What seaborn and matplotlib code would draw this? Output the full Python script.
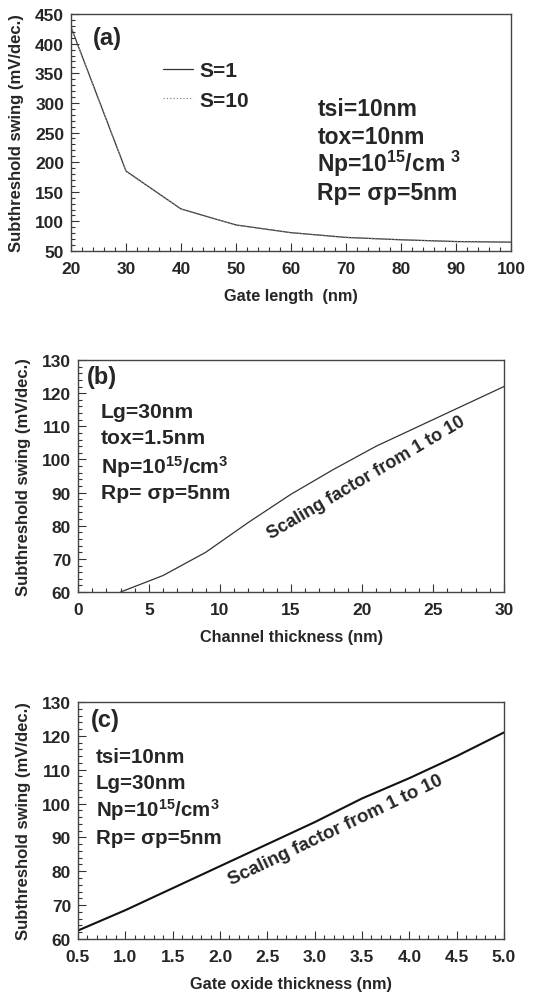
import numpy as np
import pandas as pd
import matplotlib
matplotlib.use("Agg")
import matplotlib.pyplot as plt
import seaborn as sns
from matplotlib.ticker import MultipleLocator, FormatStrFormatter

# panel (a): swing vs gate length
gate_len = [20, 30, 40, 50, 60, 70, 80, 90, 100]
ss_a = [428, 185, 121, 94, 81, 73, 69, 66, 65]

# panel (b): swing vs channel thickness
tsi = [3, 6, 9, 12, 15, 18, 21, 24, 27, 30]
ss_b = [60, 65, 72, 81, 89.5, 97, 104, 110, 116, 122]

# panel (c): swing vs gate oxide thickness
tox = [0.5, 1.0, 1.5, 2.0, 2.5, 3.0, 3.5, 4.0, 4.5, 5.0]
ss_c = [62.5, 68.5, 75, 81.5, 88, 94.5, 101.5, 107.5, 114, 121]

sns.set_style("white")
plt.rcParams['font.family'] = ['Liberation Sans', 'DejaVu Sans']
plt.rcParams['font.weight'] = 'bold'
plt.rcParams['mathtext.fontset'] = 'custom'
plt.rcParams['mathtext.rm'] = 'Liberation Sans:bold'
plt.rcParams['mathtext.it'] = 'Liberation Sans:bold'
plt.rcParams['mathtext.bf'] = 'Liberation Sans:bold'

fig = plt.figure(figsize=(5.39, 9.95), dpi=100)
ax_a = fig.add_axes([0.1317, 0.7467, 0.8163, 0.2382])
ax_b = fig.add_axes([0.1447, 0.404, 0.7904, 0.2332])
ax_c = fig.add_axes([0.1447, 0.0553, 0.7904, 0.2382])

ylab = "Subthreshold swing (mV/dec.)"
np_txt = r"Np=10$^{15}$/cm$^{3}$"


def style(ax, xlim, ylim, xmaj, xmin, ymaj, ymin):
    ax.set_xlim(*xlim)
    ax.set_ylim(*ylim)
    ax.xaxis.set_major_locator(MultipleLocator(xmaj))
    ax.xaxis.set_minor_locator(MultipleLocator(xmin))
    ax.yaxis.set_major_locator(MultipleLocator(ymaj))
    ax.yaxis.set_minor_locator(MultipleLocator(ymin))
    ax.tick_params(which='both', direction='in', bottom=True, left=True,
                   top=False, right=False, labelsize=12.5, width=0.8, color='#333333')
    ax.tick_params(axis='x', which='major', pad=7)
    ax.tick_params(axis='y', which='major', pad=5)
    ax.tick_params(which='major', length=6)
    ax.tick_params(which='minor', length=3)
    for s in ax.spines.values():
        s.set_color('#444444')
        s.set_linewidth(1.0)


# (a)
df_a = pd.DataFrame({'x': gate_len, 'y': ss_a})
sns.lineplot(data=df_a, x='x', y='y', ax=ax_a, color='#333333', lw=0.9, label='S=1')
sns.lineplot(data=df_a, x='x', y='y', ax=ax_a, color='#888888', lw=0.9, ls=':', label='S=10')
style(ax_a, (20, 100), (50, 450), 10, 2, 50, 10)
ax_a.set_xlabel("Gate length  (nm)", fontsize=11.7, fontweight='bold', labelpad=9)
ax_a.set_ylabel(ylab, fontsize=12, fontweight='bold', labelpad=8)
ax_a.legend(frameon=False, loc='upper left', bbox_to_anchor=(0.185, 0.845), borderpad=0,
            prop={'size': 15, 'weight': 'bold'}, handlelength=1.45, handletextpad=0.3,
            labelspacing=0.5)
ax_a.text(0.05, 0.90, "(a)", transform=ax_a.transAxes, fontsize=17, fontweight='bold', va='center')
for t, yy in zip(["tsi=10nm", "tox=10nm", r"Np=10$^{15}$/cm $^{3}$", "Rp= σp=5nm"],
                 [0.603, 0.485, 0.371, 0.249]):
    ax_a.text(0.56, yy, t, transform=ax_a.transAxes, fontsize=16.5, fontweight='bold', va='center')

# (b)
df_b = pd.DataFrame({'x': tsi, 'y': ss_b})
sns.lineplot(data=df_b, x='x', y='y', ax=ax_b, color='#333333', lw=0.9)
style(ax_b, (0, 30), (60, 130), 5, 1, 10, 2)
ax_b.set_xlabel("Channel thickness (nm)", fontsize=11.7, fontweight='bold', labelpad=9)
ax_b.set_ylabel(ylab, fontsize=12, fontweight='bold', labelpad=8)
ax_b.text(0.02, 0.93, "(b)", transform=ax_b.transAxes, fontsize=17, fontweight='bold', va='center')
for t, yy in zip(["Lg=30nm", "tox=1.5nm", np_txt, "Rp= σp=5nm"],
                 [0.776, 0.664, 0.543, 0.431]):
    ax_b.text(0.054, yy, t, transform=ax_b.transAxes, fontsize=15.2, fontweight='bold', va='center')
ax_b.text(20.3, 94.5, "Scaling factor from 1 to 10", fontsize=13, fontweight='bold',
          rotation=30.5, ha='center', va='center', rotation_mode='anchor')

# (c)
df_c = pd.DataFrame({'x': tox, 'y': ss_c})
sns.lineplot(data=df_c, x='x', y='y', ax=ax_c, color='#111111', lw=1.5)
style(ax_c, (0.5, 5.0), (60, 130), 0.5, 0.1, 10, 2)
ax_c.xaxis.set_major_formatter(FormatStrFormatter('%.1f'))
ax_c.set_xlabel("Gate oxide thickness (nm)", fontsize=11.7, fontweight='bold', labelpad=9)
ax_c.set_ylabel(ylab, fontsize=12, fontweight='bold', labelpad=8)
ax_c.text(0.03, 0.928, "(c)", transform=ax_c.transAxes, fontsize=17, fontweight='bold', va='center')
for t, yy in zip(["tsi=10nm", "Lg=30nm", np_txt, "Rp= σp=5nm"],
                 [0.772, 0.662, 0.549, 0.430]):
    ax_c.text(0.042, yy, t, transform=ax_c.transAxes, fontsize=14.8, fontweight='bold', va='center')
ax_c.text(3.22, 92.3, "Scaling factor from 1 to 10", fontsize=13.5, fontweight='bold',
          rotation=25.5, ha='center', va='center', rotation_mode='anchor')

for ax in (ax_a, ax_b, ax_c):
    for lab in ax.get_xticklabels() + ax.get_yticklabels():
        lab.set_fontweight('bold')

fig.savefig("out.png", dpi=100)
